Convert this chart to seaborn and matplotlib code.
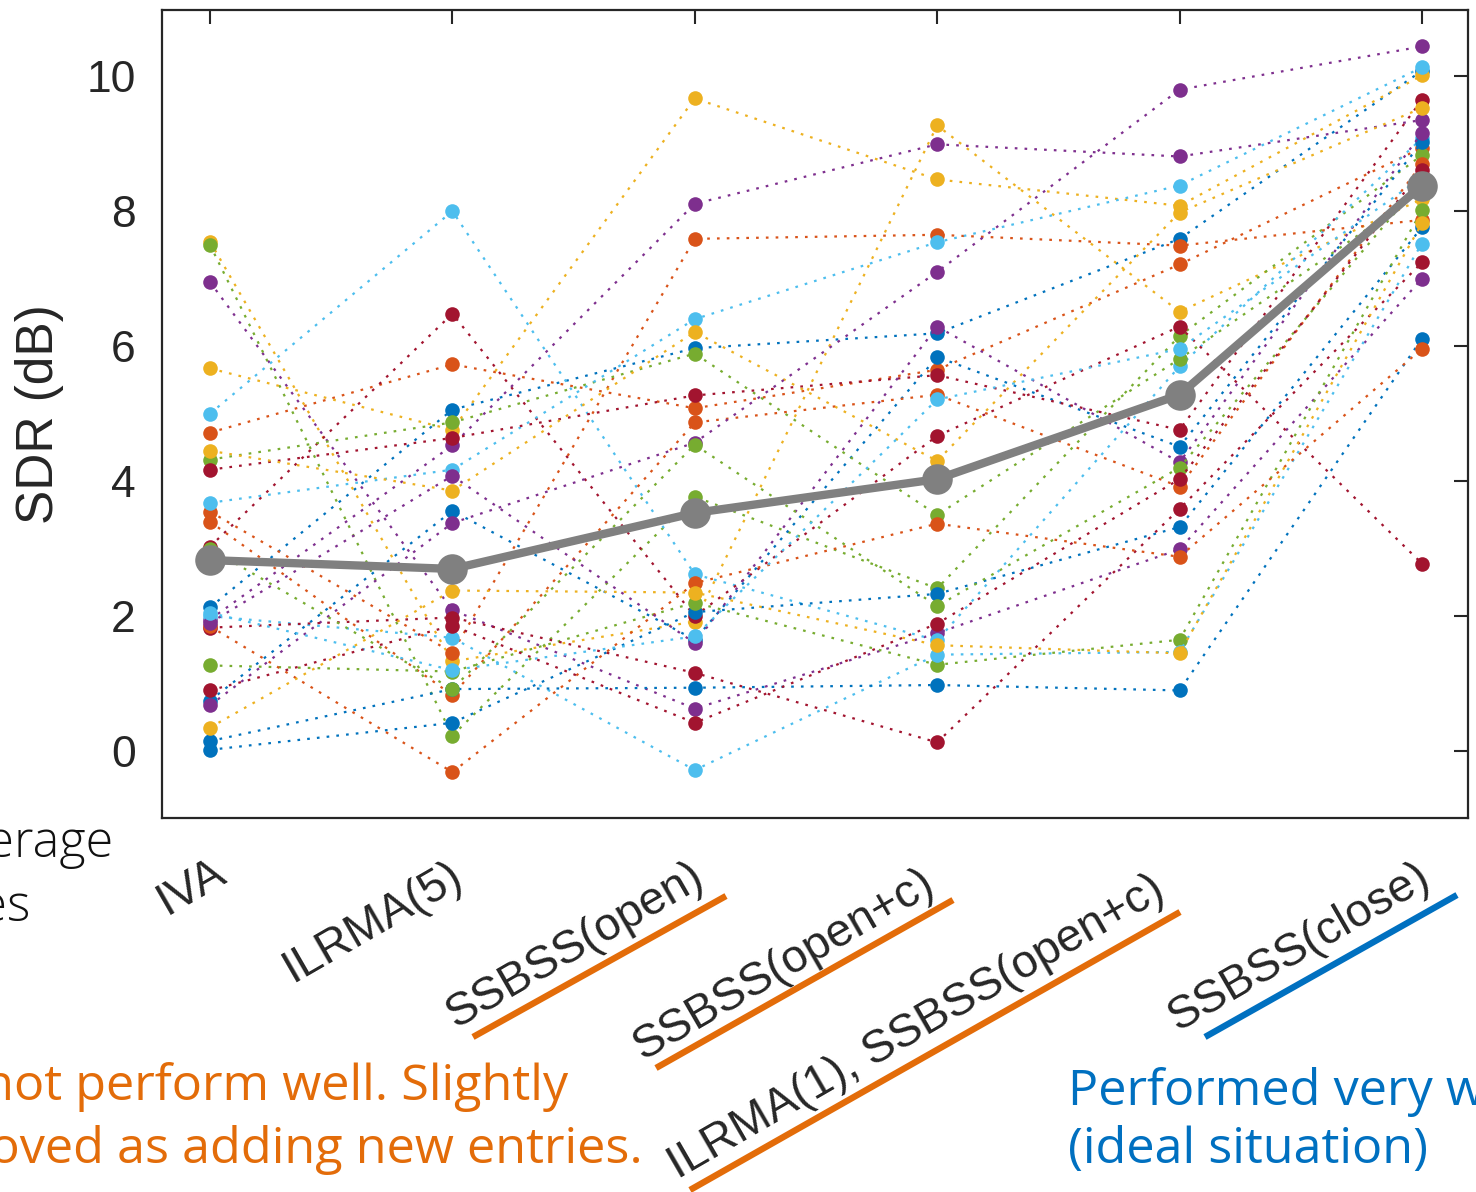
import numpy as np
import pandas as pd
import matplotlib
matplotlib.use("Agg")
import matplotlib.pyplot as plt
import matplotlib.transforms as mtransforms
from matplotlib.lines import Line2D
import seaborn as sns

# ---------------- data ----------------
categories = ["IVA", "ILRMA(5)", "SSBSS(open)", "SSBSS(open+c)",
              "ILRMA(1), SSBSS(open+c)", "SSBSS(close)"]
average_sdr = [2.83, 2.70, 3.53, 4.03, 5.28, 8.38]

blue_runs = [
    [2.13, 5.06, 5.97, 6.19, 7.59, 10.08],
    [0.75, 3.56, 1.65, 5.84, 4.51, 9.02],
    [0.02, 0.42, 2.06, 2.33, 3.32, 7.76],
    [0.15, 0.92, 0.94, 0.98, 0.90, 6.11],
]
orange_runs = [
    [4.72, 5.73, 5.08, 5.65, 7.21, 8.94],
    [3.55, 1.46, 7.59, 7.65, 7.49, 7.87],
    [3.40, 0.83, 4.87, 5.28, 3.92, 8.70],
    [1.85, -0.31, 2.49, 3.37, 2.88, 5.96],
]
yellow_runs = [
    [7.55, 1.33, 1.92, 9.27, 6.51, 8.18],
    [5.67, 4.76, 9.67, 8.47, 8.08, 10.01],
    [4.45, 3.86, 6.21, 4.30, 7.98, 9.53],
    [0.35, 2.38, 2.35, 1.57, 1.45, 7.82],
]
purple_runs = [
    [6.95, 2.09, 0.63, 1.75, 2.99, 7.00],
    [1.95, 4.53, 8.11, 8.99, 8.81, 9.35],
    [0.68, 3.38, 4.57, 7.10, 9.80, 10.44],
    [1.90, 4.08, 1.60, 6.29, 4.28, 9.16],
]
green_runs = [
    [7.50, 0.23, 3.77, 2.41, 6.15, 8.83],
    [4.32, 4.87, 5.89, 3.50, 5.81, 8.30],
    [1.27, 1.18, 2.20, 1.28, 1.65, 8.01],
    [3.00, 0.92, 4.54, 2.15, 4.20, 8.45],
]
lightblue_runs = [
    [5.00, 8.00, 2.62, 1.64, 5.70, 9.08],
    [3.68, 4.17, 6.40, 7.54, 8.38, 10.13],
    [2.00, 1.68, -0.28, 1.43, 1.47, 7.52],
    [2.05, 1.20, 1.70, 5.21, 5.96, 8.50],
]
darkred_runs = [
    [3.03, 6.48, 2.00, 4.67, 6.29, 2.78],
    [4.17, 4.64, 5.27, 5.57, 4.76, 9.65],
    [1.83, 1.98, 1.16, 0.13, 3.59, 7.24],
    [0.90, 1.86, 0.42, 1.89, 4.03, 8.61],
]

# ---------------- style ----------------
color_groups = [blue_runs, orange_runs, yellow_runs, purple_runs,
                green_runs, lightblue_runs, darkred_runs]
matlab_colors = ["#0072BD", "#D95319", "#EDB120", "#7E2F8E",
                 "#77AC30", "#4DBEEE", "#A2142F"]
AXC = "#262626"
ORANGE_TXT = "#E36C09"
BLUE_TXT = "#0070C0"

sns.set_style("white")
plt.rcParams["font.family"] = ["Liberation Sans", "DejaVu Sans"]

W, H = 1476, 1192
fig = plt.figure(figsize=(W / 100, H / 100), dpi=100)
ax = fig.add_axes([162 / W, 1 - 818 / H, (1468 - 162) / W, (818 - 10) / H])

# long-form table, MATLAB colour order cycling
rows = []
palette = {}
n_groups = len(blue_runs)
for k in range(n_groups * len(color_groups)):
    ci = k % len(color_groups)
    gi = k // len(color_groups)
    name = f"run{k:02d}"
    palette[name] = matlab_colors[ci]
    for xi, v in enumerate(color_groups[ci][gi]):
        rows.append({"run": name, "pos": xi, "sdr": v})
df = pd.DataFrame(rows)

sns.lineplot(data=df, x="pos", y="sdr", hue="run", palette=palette,
             hue_order=list(palette.keys()), sort=False, legend=False,
             marker="o", markersize=10.5, markeredgewidth=0,
             linewidth=1.6, linestyle=(0, (1.2, 3.2)), ax=ax)

avg_df = pd.DataFrame({"pos": range(len(categories)), "sdr": average_sdr})
sns.lineplot(data=avg_df, x="pos", y="sdr", color="#808080", linewidth=6,
             marker="o", markersize=22, markeredgewidth=0, ax=ax, zorder=10)

# ---------------- axes ----------------
ax.set_xlim(-0.198, 5.19)
ax.set_ylim(-0.99, 10.98)
ax.set_yticks([0, 2, 4, 6, 8, 10])
ax.set_xticks(range(len(categories)))
ax.set_xticklabels([])
ax.tick_params(axis="both", direction="in", length=10, width=1.5,
               colors=AXC, top=True, right=True)
ax.tick_params(axis="y", pad=19, labelsize=32)
for s in ax.spines.values():
    s.set_visible(True)
    s.set_color(AXC)
    s.set_linewidth(1.6)
ax.set_xlabel("")
ax.set_ylabel("SDR (dB)", fontsize=37, color=AXC)
ax.yaxis.set_label_coords((64 - 162) / (1468 - 162), 0.5)

# rotated category labels (drawn as text, anchored at the top-right corner)
label_shift = [2, -4, -5, -17, -29, -6]   # px along the label direction (x part)
tan30 = np.tan(np.radians(30))
for i, (lab, e) in enumerate(zip(categories, label_shift)):
    off = mtransforms.ScaledTranslation(e / 100, (-33 + e * tan30) / 100,
                                        fig.dpi_scale_trans)
    ax.text(i, 0, lab, transform=ax.get_xaxis_transform() + off,
            rotation=30, ha="right", va="top", rotation_mode="anchor",
            fontsize=33.5, color=AXC, clip_on=False)

# ---------------- annotations ----------------
def fx(x):
    return x / W

def fy(y):
    return 1 - y / H

underlines = [((473, 1037), (726, 896), ORANGE_TXT),
              ((656, 1068), (953, 900), ORANGE_TXT),
              ((690, 1190), (1180, 912), ORANGE_TXT),
              ((1205, 1037), (1457, 895), BLUE_TXT)]
for (x1, y1), (x2, y2), c in underlines:
    fig.add_artist(Line2D([fx(x1), fx(x2)], [fy(y1), fy(y2)],
                          transform=fig.transFigure, color=c, lw=4.6,
                          solid_capstyle="butt"))

ann_font = ["Open Sans", "DejaVu Sans"]
fig.canvas.draw()
renderer = fig.canvas.get_renderer()
probe = fig.text(0, 0, "(ideal situation)", fontsize=40, family=ann_font)
wpx = probe.get_window_extent(renderer).width
probe.remove()
ann_size = 40 * 360 / wpx

fig.text(fx(113), fy(857), "Average", ha="right", va="baseline",
         fontsize=ann_size, family=ann_font, color="#111111", fontweight="light")
fig.text(fx(30), fy(921), "Thin lines: samples", ha="right", va="baseline",
         fontsize=ann_size, family=ann_font, color="#111111", fontweight="light")
fig.text(fx(568), fy(1100), "Did not perform well. Slightly", ha="right",
         va="baseline", fontsize=ann_size, family=ann_font, color=ORANGE_TXT)
fig.text(fx(643), fy(1163), "improved as adding new entries.", ha="right",
         va="baseline", fontsize=ann_size, family=ann_font, color=ORANGE_TXT)
fig.text(fx(1068), fy(1105), "Performed very well", ha="left",
         va="baseline", fontsize=ann_size, family=ann_font, color=BLUE_TXT)
fig.text(fx(1068), fy(1163), "(ideal situation)", ha="left",
         va="baseline", fontsize=ann_size, family=ann_font, color=BLUE_TXT)

fig.savefig("out.png", dpi=100, facecolor="white")
